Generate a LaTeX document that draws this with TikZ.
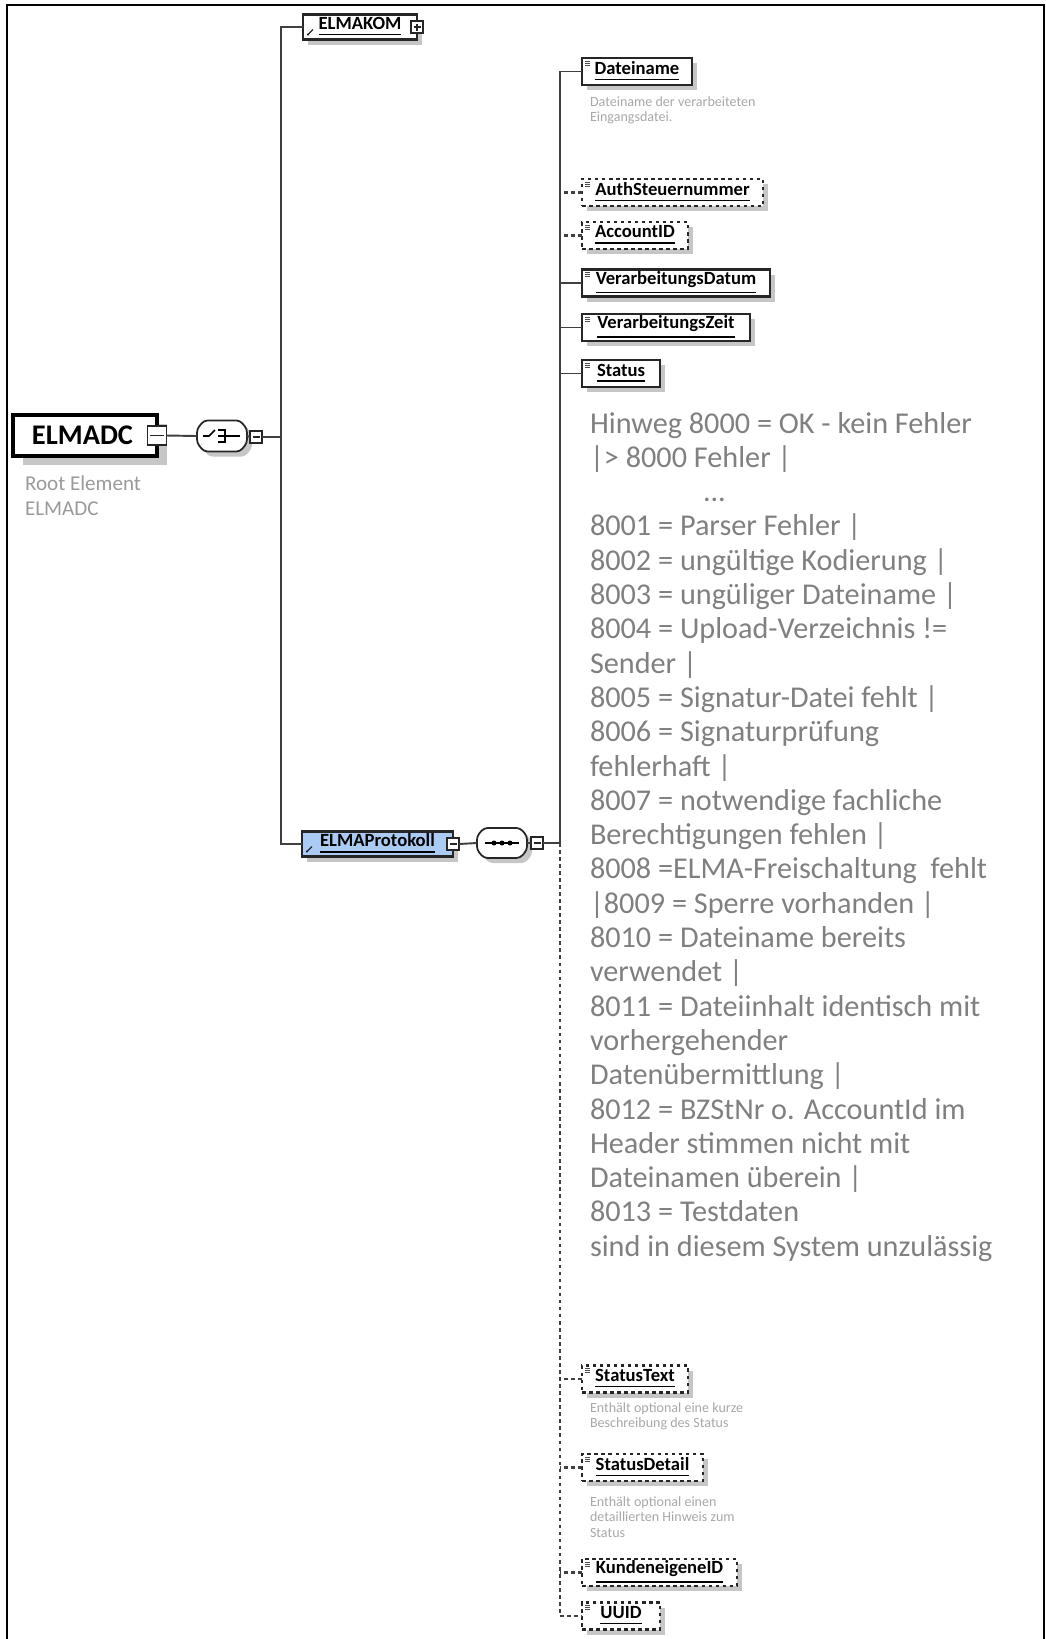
\documentclass[tikz,border=0pt]{standalone}
\usepackage{fontspec}
\setmainfont{Carlito}
\usetikzlibrary{shadows}
\definecolor{notegray}{HTML}{808080}
\definecolor{descgray}{HTML}{A8A8A8}
\definecolor{shadegray}{HTML}{C6C6C6}
\definecolor{protoblue}{HTML}{AACBF3}
\begin{document}
\begin{tikzpicture}[
    y=-1cm,
    every node/.style={inner sep=0pt, outer sep=0pt},
    shade/.style={drop shadow={shadow xshift=0.05cm, shadow yshift=-0.05cm, fill=shadegray, opacity=1}},
    elem/.style={rectangle, draw=black!85, line width=0.6pt, fill=white, anchor=west, minimum height=0.27cm,
        font=\fontsize{5.3}{6}\selectfont\bfseries, shade,
        path picture={\draw[solid, line width=0.25pt, black!70]
            ([xshift=0.03cm, yshift=-0.03cm]path picture bounding box.north west) -- ++(0.05,0)
            ([xshift=0.03cm, yshift=-0.05cm]path picture bounding box.north west) -- ++(0.05,0)
            ([xshift=0.03cm, yshift=-0.07cm]path picture bounding box.north west) -- ++(0.05,0);}},
    optel/.style={elem, dash pattern=on 1pt off 1pt, line width=0.7pt},
    refel/.style={rectangle, draw=black!85, line width=0.6pt, anchor=west, minimum height=0.25cm,
        font=\fontsize{5.3}{6}\selectfont\bfseries, shade,
        path picture={\fill[black] ([xshift=0.05cm, yshift=0.05cm]path picture bounding box.south west) circle (0.012);
            \draw[line width=0.35pt] ([xshift=0.05cm, yshift=0.05cm]path picture bounding box.south west) -- ++(0.05,-0.05);}},
    comp/.style={minimum width=0.5cm, minimum height=0.31cm},
    octo/.style={draw=black!85, line width=0.5pt, fill=white, rounded corners=1pt, shade},
    pm/.style={rectangle, draw=black!85, line width=0.45pt, fill=white, minimum size=0.12cm},
    minus/.style={pm, path picture={\draw[line width=0.4pt]
        ([xshift=0.025cm]path picture bounding box.west) -- ([xshift=-0.025cm]path picture bounding box.east);}},
    plus/.style={pm, path picture={\draw[line width=0.4pt]
        ([xshift=0.025cm]path picture bounding box.west) -- ([xshift=-0.025cm]path picture bounding box.east)
        ([yshift=0.025cm]path picture bounding box.south) -- ([yshift=-0.025cm]path picture bounding box.north);}},
    desc/.style={anchor=north west, align=left, text=descgray, font=\fontsize{4}{4.3}\selectfont},
    conn/.style={black!75, line width=0.55pt},
    optconn/.style={conn, dash pattern=on 1pt off 1pt, line width=0.7pt}
]
\useasboundingbox (0,0) rectangle (10.46,16.39);
\draw[line width=0.6pt] (0.07,16.39) -- (0.07,0.05) -- (10.44,0.05) -- (10.44,16.39);

% root
\node[rectangle, draw=black, line width=0.9pt, fill=white, minimum width=1.44cm, minimum height=0.41cm,
    font=\fontsize{8.1}{9}\selectfont\bfseries,
    drop shadow={shadow xshift=0.1cm, shadow yshift=-0.09cm, fill=shadegray, opacity=1}] (elmadc) at (0.85,4.355) {ELMADC\hspace*{0.05cm}};
\node[minus, minimum size=0.19cm] (elmadc-m) at (elmadc.east) {};
\node[anchor=north west, align=left, text=notegray!80, font=\fontsize{6}{7.1}\selectfont] (rootnote) at (0.25,4.76) {Root Element\\ELMADC};

% choice
\node[comp] (choice) at (2.22,4.36) {};
\draw[octo] (choice.center) ++(-0.25,-0.07) -- ++(0.07,-0.085) -- ++(0.36,0) -- ++(0.07,0.085)
    -- ++(0,0.14) -- ++(-0.07,0.085) -- ++(-0.36,0) -- ++(-0.07,-0.085) -- cycle;
\node[minus] (choice-m) at (2.56,4.37) {};
\draw[line width=0.45pt] ([xshift=-0.19cm]choice.center) -- ++(0.06,0) -- ++(0.06,-0.06);
\draw[line width=0.45pt] ([xshift=-0.04cm, yshift=0.06cm]choice.center) -- ++(0.07,0) -- ++(0,0.12) -- ++(-0.07,0)
    ([xshift=-0.04cm]choice.center) -- ++(0.22,0);

% children of root
\node[refel, fill=white, minimum width=1.14cm] (elmakom) at (3.03,0.27) {\underline{ELMAKOM}};
\node[plus] (elmakom-p) at (elmakom.east) {};
\node[refel, fill=protoblue, minimum width=1.51cm] (protokoll) at (3.02,8.44) {\underline{ELMAProtokoll}};
\node[minus] (protokoll-m) at (protokoll.east) {};
\coordinate (bus1) at (2.81,4.37);

% sequence
\node[comp] (seq) at (5.02,8.43) {};
\draw[octo] (seq.center) ++(-0.25,-0.07) -- ++(0.07,-0.08) -- ++(0.36,0) -- ++(0.07,0.08)
    -- ++(0,0.14) -- ++(-0.07,0.08) -- ++(-0.36,0) -- ++(-0.07,-0.08) -- cycle;
\node[minus] (seq-m) at (5.37,8.43) {};
\draw[line width=0.45pt] ([xshift=-0.17cm]seq.center) -- ([xshift=0.17cm]seq.center);
\foreach \dx in {-0.08,0,0.08}
    \fill ([xshift=\dx cm]seq.center) circle (0.025);
\coordinate (bus2) at (5.60,8.43);

% elements of ELMAProtokoll
\node[elem,  minimum width=1.10cm] (dateiname) at (5.82,0.715) {\underline{Dateiname}};
\node[desc] (dateiname-d) at (5.90,0.97) {Dateiname der verarbeiteten\\Eingangsdatei.};
\node[optel, minimum width=1.81cm] (auth) at (5.82,1.925) {\underline{AuthSteuernummer}};
\node[optel, minimum width=1.06cm] (account) at (5.82,2.355) {\underline{AccountID}};
\node[elem,  minimum width=1.88cm] (datum) at (5.82,2.83) {\underline{VerarbeitungsDatum}};
\node[elem,  minimum width=1.68cm] (zeit) at (5.82,3.275) {\underline{VerarbeitungsZeit}};
\node[elem,  minimum width=0.78cm] (status) at (5.82,3.735) {\underline{Status}};
\node[anchor=north west, align=left, text=notegray, font=\fontsize{8.6}{9.76}\selectfont] (status-d) at (5.90,4.12)
    {Hinweg 8000 = OK - kein Fehler\\
     |> 8000 Fehler |\\
     \hspace*{1.13cm}...\\
     8001 = Parser Fehler |\\
     8002 = ungültige Kodierung |\\
     8003 = ungüliger Dateiname |\\
     8004 = Upload-Verzeichnis !=\\
     Sender |\\
     8005 = Signatur-Datei fehlt |\\
     8006 = Signaturprüfung\\
     fehlerhaft |\\
     8007 = notwendige fachliche\\
     Berechtigungen fehlen |\\
     8008 =ELMA-Freischaltung\ \ fehlt\\
     |8009 = Sperre vorhanden |\\
     8010 = Dateiname bereits\\
     verwendet |\\
     8011 = Dateiinhalt identisch mit\\
     vorhergehender\\
     Datenübermittlung |\\
     8012 = BZStNr o. AccountId im\\
     Header stimmen nicht mit\\
     Dateinamen überein |\\
     8013 = Testdaten\\
     sind in diesem System unzulässig};
\node[optel, minimum width=1.06cm] (statustext) at (5.82,13.79) {\underline{StatusText}};
\node[desc] (statustext-d) at (5.90,14.03) {Enthält optional eine kurze\\Beschreibung des Status};
\node[optel, minimum width=1.21cm] (statusdetail) at (5.82,14.675) {\underline{StatusDetail}};
\node[desc] (statusdetail-d) at (5.90,14.97) {Enthält optional einen\\detaillierten Hinweis zum\\Status};
\node[optel, minimum width=1.55cm] (kunden) at (5.82,15.725) {\underline{KundeneigeneID}};
\node[optel, minimum width=0.78cm] (uuid) at (5.82,16.16) {\underline{UUID}};

% connectors
\draw[conn] (elmadc-m.east) -- (choice.west);
\draw[conn] (choice.east) -- (choice-m.west);
\draw[conn] (choice-m.east) -- (bus1);
\draw[conn] (elmakom.west) -| (bus1) |- (protokoll.west);
\draw[conn] (protokoll-m.east) -- (seq.west);
\draw[conn] (seq.east) -- (seq-m.west);
\draw[conn] (seq-m.east) -- (bus2);
\draw[conn] (dateiname.west) -| (bus2);
\foreach \n in {datum,zeit,status}
    \draw[conn] (\n.west) -- (\n.west -| bus2);
\foreach \n in {auth,account,statustext,statusdetail,kunden}
    \draw[optconn] (\n.west) -- (\n.west -| bus2);
\draw[optconn] (bus2) |- (uuid.west);
\end{tikzpicture}
\end{document}
